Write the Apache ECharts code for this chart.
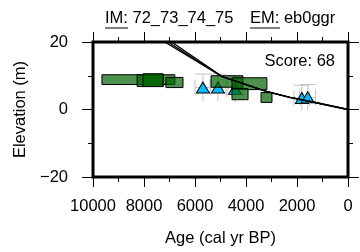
<!DOCTYPE html>
<html>
<head>
<meta charset="utf-8">
<script src="https://cdn.jsdelivr.net/npm/echarts@6/dist/echarts.min.js"></script>
<style>
  html, body { margin: 0; padding: 0; background: #fff; }
  #chart { width: 360px; height: 252px; }
</style>
</head>
<body>
<div id="chart"></div>
<script>
// x ticks (age, cal yr BP) and y ticks (elevation, m)
const ageTicks = [10000, 8000, 6000, 4000, 2000, 0];
const elevTicks = [-20, 0, 20];

// green index-point boxes: age range and elevation range
const boxAgeOld = [9650, 8270, 8040, 7140, 5370, 4550, 4550, 3410];
const boxAgeYoung = [6790, 7250, 7250, 6470, 4120, 3180, 3920, 2980];
const boxElevTop = [10.3, 10.3, 10.6, 9.5, 10.0, 9.4, 6.2, 5.0];
const boxElevBottom = [7.4, 6.8, 6.8, 6.5, 6.6, 5.9, 2.9, 2.1];

// cyan triangles with their uncertainties
const triAge = [5690, 5100, 4430, 1810, 1580];
const triElev = [6.5, 6.5, 6.1, 3.4, 3.6];
const triAgeErr = [310, 310, 310, 310, 310];
const triElevErr = [4, 4, 4, 3.8, 3.8];

// model curves
const modelAge = [
  [7400, 4950, 3200, 2270, 1230, 0],
  [7260, 4950, 3200, 2270, 1230, 0],
  [7110, 4920, 3190, 2260, 1220, 0],
];
const modelElev = [
  [21, 9.8, 5.4, 3.6, 2.0, 0],
  [21, 9.8, 5.4, 3.6, 2.0, 0],
  [21, 9.7, 5.3, 3.5, 1.9, 0],
];

const FONT = "'Liberation Sans', Arial, sans-serif";
const FS = 16.5;

const boxData = boxAgeOld.map((a, i) => [a, boxAgeYoung[i], boxElevTop[i], boxElevBottom[i]]);
const triData = triAge.map((a, i) => [a, triElev[i]]);
const errData = triAge.map((a, i) => [a, triElev[i], triAgeErr[i], triElevErr[i]]);

const chart = echarts.init(document.getElementById("chart"), null, { renderer: "canvas" });

const tickStyle = { color: "#000", width: 1 };
function xAxisDef(pos, labels) {
  return {
    type: "value",
    position: pos,
    min: 0,
    max: 10000,
    interval: 2000,
    inverse: true,
    axisLine: { show: false, onZero: false },
    axisTick: { show: true, inside: false, length: 10, lineStyle: tickStyle },
    minorTick: { show: true, splitNumber: 2, length: 5, lineStyle: tickStyle },
    splitLine: { show: false },
    axisLabel: {
      show: labels,
      color: "#000",
      fontSize: FS,
      fontFamily: FONT,
      margin: 21,
      formatter: (v) => String(v),
    },
    name: labels ? "Age (cal yr BP)" : "",
    nameLocation: "middle",
    nameGap: 53,
    nameTextStyle: { color: "#000", fontSize: FS, fontFamily: FONT },
  };
}
function yAxisDef(pos, labels) {
  return {
    type: "value",
    position: pos,
    min: -20,
    max: 20,
    interval: 20,
    axisLine: { show: false, onZero: false },
    axisTick: { show: true, inside: false, length: 11, lineStyle: tickStyle },
    minorTick: { show: true, splitNumber: 2, length: 5, lineStyle: tickStyle },
    splitLine: { show: false },
    axisLabel: {
      show: labels,
      color: "#000",
      fontSize: FS,
      fontFamily: FONT,
      margin: 25,
      formatter: (v) => String(v).replace("-", "\u2212"),
    },
    name: labels ? "Elevation (m)" : "",
    nameLocation: "middle",
    nameRotate: 90,
    nameGap: 62,
    nameTextStyle: { color: "#000", fontSize: FS, fontFamily: FONT },
  };
}

chart.setOption({
  animation: false,
  grid: {
    left: 93, right: 12, top: 42, bottom: 72,
    show: true, borderColor: "#000", borderWidth: 3, backgroundColor: "transparent",
  },
  xAxis: [xAxisDef("bottom", true), xAxisDef("top", false)],
  yAxis: [yAxisDef("left", true), yAxisDef("right", false)],
  graphic: [
    { type: "text", left: 105, top: 10, style: { text: "IM: 72_73_74_75", fill: "#000", font: FS + "px " + FONT } },
    { type: "text", left: 250, top: 10, style: { text: "EM: eb0ggr", fill: "#000", font: FS + "px " + FONT } },
    { type: "line", shape: { x1: 105, y1: 28, x2: 128, y2: 28 }, style: { stroke: "#000", lineWidth: 1 } },
    { type: "line", shape: { x1: 250, y1: 28, x2: 280, y2: 28 }, style: { stroke: "#000", lineWidth: 1 } },
    { type: "text", right: 25, top: 53, style: { text: "Score: 68", fill: "#000", font: FS + "px " + FONT } },
  ],
  series: [
    {
      type: "custom",
      name: "errors",
      z: 1,
      data: errData,
      encode: { x: 0, y: 1 },
      renderItem(params, api) {
        const a = api.value(0), e = api.value(1), da = api.value(2), de = api.value(3);
        const c = api.coord([a, e]);
        const lo = api.coord([a, e - de]);
        const hi = api.coord([a, e + de]);
        const l = api.coord([a + da, e]);
        const r = api.coord([a - da, e]);
        const st = { stroke: "#c4c4c4", lineWidth: 1 };
        const ln = (x1, y1, x2, y2) => ({ type: "line", shape: { x1, y1, x2, y2 }, style: st });
        return {
          type: "group",
          children: [
            ln(c[0], lo[1], c[0], hi[1]),
            ln(l[0], hi[1], r[0], hi[1]),
            ln(l[0], c[1] - 8, l[0], c[1] + 8),
            ln(r[0], c[1] - 8, r[0], c[1] + 8),
            ln(l[0], c[1], r[0], c[1]),
          ],
        };
      },
    },
    {
      type: "scatter",
      name: "triangles",
      z: 2,
      data: triData,
      symbol: "triangle",
      symbolSize: [13, 11],
      itemStyle: { color: "#00bfff", borderColor: "#000", borderWidth: 1, opacity: 1 },
    },
    {
      type: "custom",
      name: "boxes",
      z: 3,
      data: boxData,
      encode: { x: [0, 1], y: [2, 3] },
      renderItem(params, api) {
        const p1 = api.coord([api.value(0), api.value(2)]);
        const p2 = api.coord([api.value(1), api.value(3)]);
        return {
          type: "rect",
          shape: {
            x: Math.min(p1[0], p2[0]),
            y: Math.min(p1[1], p2[1]),
            width: Math.abs(p2[0] - p1[0]),
            height: Math.abs(p2[1] - p1[1]),
          },
          style: { fill: "rgba(0,100,0,0.7)", stroke: "#000", lineWidth: 1 },
        };
      },
    },
    ...modelAge.map((ages, k) => ({
      type: "line",
      name: "model" + k,
      z: 4,
      data: ages.map((a, i) => [a, modelElev[k][i]]),
      showSymbol: false,
      clip: true,
      lineStyle: { color: "#000", width: 1.3 },
    })),
  ],
});
</script>
</body>
</html>
